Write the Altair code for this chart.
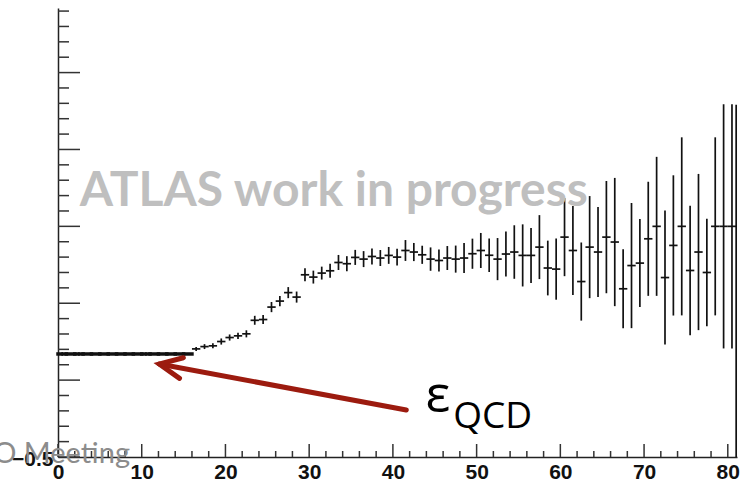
import altair as alt
import pandas as pd

# ---------------- data ----------------
bin_low = list(range(0, 81))          # bins of width 1 from 0 to 81
eff = [0.17] * 16 + [
    0.203, 0.218, 0.223, 0.251, 0.277, 0.288, 0.301, 0.389, 0.394, 0.475, 0.514, 0.569, 0.540,
    0.685, 0.670, 0.696, 0.711, 0.765, 0.757, 0.798, 0.787, 0.804, 0.794, 0.811, 0.800,
    0.843, 0.833, 0.815, 0.787, 0.778, 0.794, 0.787, 0.794, 0.822, 0.843, 0.812, 0.787,
    0.820, 0.833, 0.811, 0.811, 0.865, 0.729, 0.722, 0.930, 0.843, 0.641, 0.865, 0.833,
    0.930, 0.898, 0.594, 0.745, 0.761, 0.919, 1.0, 0.667, 0.876, 1.0, 0.713, 0.833, 0.700,
    1.0, 1.0, 1.0,
]
err = [0.012, 0, 0.012, 0, 0, 0, 0, 0, 0, 0, 0.012, 0, 0, 0, 0, 0] + [
    0.013, 0.016, 0.016, 0.020, 0.020, 0.020, 0.023, 0.029, 0.029, 0.033, 0.033, 0.036, 0.036,
    0.042, 0.042, 0.042, 0.046, 0.049, 0.049, 0.049, 0.052, 0.052, 0.052, 0.055, 0.055,
    0.068, 0.059, 0.059, 0.076, 0.072, 0.078, 0.088, 0.098, 0.098, 0.114, 0.109, 0.137,
    0.146, 0.174, 0.202, 0.179, 0.208, 0.178, 0.199, 0.254, 0.290, 0.254, 0.332, 0.293,
    0.365, 0.417, 0.257, 0.407, 0.286, 0.371, 0.452, 0.436, 0.456, 0.579, 0.421, 0.508,
    0.350, 0.579, 0.794, 0.794,
]
edge_x = [81.0]
edge_top = [1.79]

x_major = [0, 10, 20, 30, 40, 50, 60, 70, 80]
x_minor = [v for v in range(0, 81, 2) if v % 10 != 0]
y_major = [-0.5, 0.0, 0.5, 1.0, 1.5, 2.0]
y_minor = [round(-0.5 + 0.1 * k, 2) for k in range(0, 30) if k % 5 != 0]
y_labels = [-0.5]

# annotations (data coordinates)
arrow_x = [41.6, 12.1]
arrow_y = [-0.194, 0.105]
atlas_text = "ATLAS work in progress"
eps_text = "ε"
qcd_text = "QCD"
footer_text = "O Meeting"

X_DOMAIN = [0, 81.1]
Y_DOMAIN = [-0.5, 2.42]
W, H = 679, 449

# ---------------- build ----------------
df = pd.DataFrame({"lo": bin_low, "eff": eff, "err": err})
df["hi"] = df["lo"] + 1
df["c"] = df["lo"] + 0.5
df["ylo"] = df["eff"] - df["err"]
df["yhi"] = df["eff"] + df["err"]

xs = alt.Scale(domain=X_DOMAIN, nice=False, zero=False)
ys = alt.Scale(domain=Y_DOMAIN, nice=False, zero=False)

x_axis = alt.Axis(values=x_major, format="d", domain=True, domainColor="#222", domainWidth=1.5,
                  ticks=False, tickSize=0, grid=False, title=None,
                  labelFont="Liberation Sans", labelFontWeight="bold", labelFontSize=21,
                  labelColor="#111", labelPadding=4, labelFlush=False, labelOverlap=False)
y_axis = alt.Axis(values=y_labels, format=".1f", domain=True, domainColor="#222", domainWidth=1.5,
                  ticks=False, tickSize=0, grid=False, title=None,
                  labelFont="Liberation Sans", labelFontWeight="bold", labelFontSize=21,
                  labelColor="#111", labelPadding=5, labelFlush=False, labelOverlap=False,
                  labelOffset=2)

base = alt.Chart(df)

hbar_flat = base.transform_filter("datum.lo < 16").mark_rule(
    color="#111", strokeWidth=3.5, strokeCap="square").encode(
    x=alt.X("lo:Q", scale=xs, axis=x_axis), x2="hi:Q",
    y=alt.Y("eff:Q", scale=ys, axis=y_axis))
hbar = base.transform_filter("datum.lo >= 16").mark_rule(color="#111", strokeWidth=1.7).encode(
    x=alt.X("lo:Q", scale=xs), x2="hi:Q", y=alt.Y("eff:Q", scale=ys))
vbar = base.transform_filter("datum.err > 0").mark_rule(color="#111", strokeWidth=1.7).encode(
    x=alt.X("c:Q", scale=xs), y=alt.Y("ylo:Q", scale=ys), y2="yhi:Q")

edge = alt.Chart(pd.DataFrame({"x": edge_x, "top": edge_top, "bot": [Y_DOMAIN[0]]})).mark_rule(
    color="#111", strokeWidth=1.7).encode(x=alt.X("x:Q", scale=xs), y=alt.Y("bot:Q", scale=ys), y2="top:Q")

xt_major = alt.Chart(pd.DataFrame({"v": x_major})).mark_rule(color="#333", strokeWidth=1.5).encode(
    x=alt.X("v:Q", scale=xs), y=alt.value(H), y2=alt.value(H - 13))
xt_minor = alt.Chart(pd.DataFrame({"v": x_minor})).mark_rule(color="#333", strokeWidth=1.5).encode(
    x=alt.X("v:Q", scale=xs), y=alt.value(H), y2=alt.value(H - 6))
yt_major = alt.Chart(pd.DataFrame({"v": y_major})).mark_rule(color="#333", strokeWidth=1.5).encode(
    y=alt.Y("v:Q", scale=ys), x=alt.value(0), x2=alt.value(22))
yt_minor = alt.Chart(pd.DataFrame({"v": y_minor})).mark_rule(color="#333", strokeWidth=1.5).encode(
    y=alt.Y("v:Q", scale=ys), x=alt.value(0), x2=alt.value(11))

atlas = alt.Chart(pd.DataFrame({"x": [2.6], "y": [1.134], "t": [atlas_text]})).mark_text(
    font="Lato", fontWeight="bold", fontSize=48, color="#bfbfbf", align="left", baseline="alphabetic"
).encode(x=alt.X("x:Q", scale=xs), y=alt.Y("y:Q", scale=ys), text="t:N")

arrow_df = pd.DataFrame({"x": arrow_x, "y": arrow_y, "o": [0, 1]})
shaft = alt.Chart(arrow_df).mark_line(color="#9c1b0f", strokeWidth=5, strokeCap="round").encode(
    x=alt.X("x:Q", scale=xs), y=alt.Y("y:Q", scale=ys), order="o:Q")
head = alt.Chart(arrow_df.iloc[[1]]).mark_point(
    shape="M 0.9 -0.42 L 0 0 L 0.9 0.42", filled=False, stroke="#9c1b0f", strokeWidth=5,
    strokeCap="round", strokeJoin="miter", size=2500, angle=10.5, opacity=1
).encode(x=alt.X("x:Q", scale=xs), y=alt.Y("y:Q", scale=ys))

eps = alt.Chart(pd.DataFrame({"x": [43.9], "y": [-0.21], "t": [eps_text]})).mark_text(
    font="Open Sans", fontSize=52, color="#000", align="left", baseline="alphabetic"
).encode(x=alt.X("x:Q", scale=xs), y=alt.Y("y:Q", scale=ys), text="t:N")
qcd = alt.Chart(pd.DataFrame({"x": [47.2], "y": [-0.311], "t": [qcd_text]})).mark_text(
    font="Open Sans", fontSize=37, color="#000", align="left", baseline="alphabetic"
).encode(x=alt.X("x:Q", scale=xs), y=alt.Y("y:Q", scale=ys), text="t:N")

footer = alt.Chart(pd.DataFrame({"x": [-7.74], "y": [-0.539], "t": [footer_text]})).mark_text(
    font="Lato", fontSize=29, color="#8c8c8c", align="left", baseline="alphabetic"
).encode(x=alt.X("x:Q", scale=xs), y=alt.Y("y:Q", scale=ys), text="t:N")

chart = alt.layer(
    hbar_flat, hbar, vbar, edge, xt_major, xt_minor, yt_major, yt_minor,
    atlas, shaft, head, eps, qcd, footer
).properties(
    width=W, height=H,
    autosize=alt.AutoSizeParams(type="none"),
    padding={"left": 58, "top": 8, "right": 13, "bottom": 25},
).configure_view(strokeWidth=0)

chart.save("out.html", embed_options={"renderer": "svg", "actions": False})
